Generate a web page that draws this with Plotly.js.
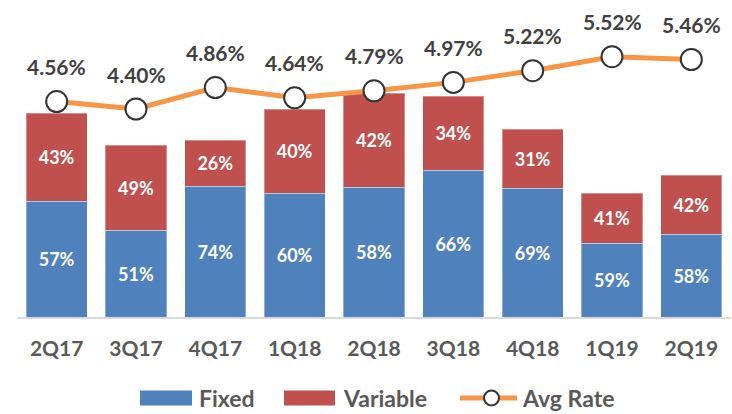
<!DOCTYPE html>
<html>
<head>
<meta charset="utf-8">
<script src="https://cdn.plot.ly/plotly-3.0.1.min.js"></script>
<style>html,body{margin:0;padding:0;background:#fff;}#chart{width:732px;height:414px;}</style>
</head>
<body>
<div id="chart"></div>
<script>
const categories = ['2Q17','3Q17','4Q17','1Q18','2Q18','3Q18','4Q18','1Q19','2Q19'];
const fixedValues = [116, 87, 131, 124, 130, 147, 129, 74, 83];
const variableValues = [88, 85, 46, 84, 94, 74, 59, 50, 59];
const fixedPct = ['57%','51%','74%','60%','58%','66%','69%','59%','58%'];
const variablePct = ['43%','49%','26%','40%','42%','34%','31%','41%','42%'];
const avgRate = [4.56, 4.40, 4.86, 4.64, 4.79, 4.97, 5.22, 5.52, 5.46];
const seriesNames = ['Fixed', 'Variable', 'Avg Rate'];

const FONT = 'Lato, "Open Sans", sans-serif';
const BLUE = '#4F81BD', RED = '#C0504D', ORANGE = '#F79646';

const W = 732, H = 414, ML = 17, MR = 1, MT = 10, MB = 97;
const PW = W - ML - MR, PH = H - MT - MB;
const px = x => (x - ML) / PW;
const py = y => (H - MB - y) / PH;

const traces = [
  {type:'bar', name:seriesNames[0], x:categories, y:fixedValues, text:fixedPct,
   textposition:'inside', insidetextanchor:'middle', constraintext:'none',
   textfont:{family:FONT, size:18, color:'#ffffff', weight:'bold'},
   marker:{color:BLUE, line:{color:'rgba(255,255,255,0.35)', width:1}}, hoverinfo:'skip'},
  {type:'bar', name:seriesNames[1], x:categories, y:variableValues, text:variablePct,
   textposition:'inside', insidetextanchor:'middle', constraintext:'none',
   textfont:{family:FONT, size:18, color:'#ffffff', weight:'bold'},
   marker:{color:RED, line:{color:'rgba(255,255,255,0.35)', width:1}}, hoverinfo:'skip'},
  {type:'scatter', mode:'lines+markers', name:seriesNames[2], x:categories, y:avgRate, yaxis:'y2',
   line:{color:ORANGE, width:5},
   marker:{size:21, color:'#ffffff', line:{color:'#333333', width:2}}, hoverinfo:'skip'}
];

const annotations = avgRate.map((r, i) => ({
  x: categories[i], y: r, xref:'x', yref:'y2', yshift:35, showarrow:false,
  text: r.toFixed(2) + '%', font:{family:FONT, size:21, color:'#404040', weight:'bold'},
  xanchor:'center', yanchor:'middle'
}));

// custom legend
const legY = 398;
const legendText = [
  {x:197, t:seriesNames[0]}, {x:341, t:seriesNames[1]}, {x:520, t:seriesNames[2]}
];
legendText.forEach(l => annotations.push({
  x: px(l.x), y: py(legY), xref:'paper', yref:'paper', showarrow:false, text:l.t,
  xanchor:'left', yanchor:'middle', font:{family:FONT, size:23, color:'#595959', weight:'bold'}
}));
const shapes = [
  {type:'rect', xref:'paper', yref:'paper', x0:px(140), x1:px(192), y0:py(legY-7.5), y1:py(legY+7.5), fillcolor:BLUE, line:{width:0}},
  {type:'rect', xref:'paper', yref:'paper', x0:px(284), x1:px(335), y0:py(legY-7.5), y1:py(legY+7.5), fillcolor:RED, line:{width:0}},
  {type:'line', xref:'paper', yref:'paper', x0:px(460), x1:px(517), y0:py(legY), y1:py(legY), line:{color:ORANGE, width:5}},
  {type:'circle', xref:'paper', yref:'paper', x0:px(484), x1:px(499), y0:py(legY-7.5), y1:py(legY+7.5), fillcolor:'#ffffff', line:{color:'#333333', width:2}}
];

const layout = {
  width:W, height:H, margin:{l:ML, r:MR, t:MT, b:MB, pad:0},
  paper_bgcolor:'#ffffff', plot_bgcolor:'#ffffff',
  barmode:'stack', bargap:0.23, showlegend:false,
  font:{family:FONT},
  xaxis:{type:'category', range:[-0.5, 8.5], showline:true, linecolor:'#D9D9D9', linewidth:2,
         showgrid:false, zeroline:false, ticks:'', ticklabelstandoff:12,
         tickfont:{family:FONT, size:21, color:'#595959', weight:'bold'}, fixedrange:true},
  yaxis:{visible:false, range:[0, PH], showgrid:false, zeroline:false},
  yaxis2:{visible:false, overlaying:'y', side:'right', range:[-0.054, 6.52], showgrid:false, zeroline:false},
  annotations:annotations, shapes:shapes
};

Plotly.newPlot('chart', traces, layout, {staticPlot:true, displayModeBar:false});
</script>
</body>
</html>
